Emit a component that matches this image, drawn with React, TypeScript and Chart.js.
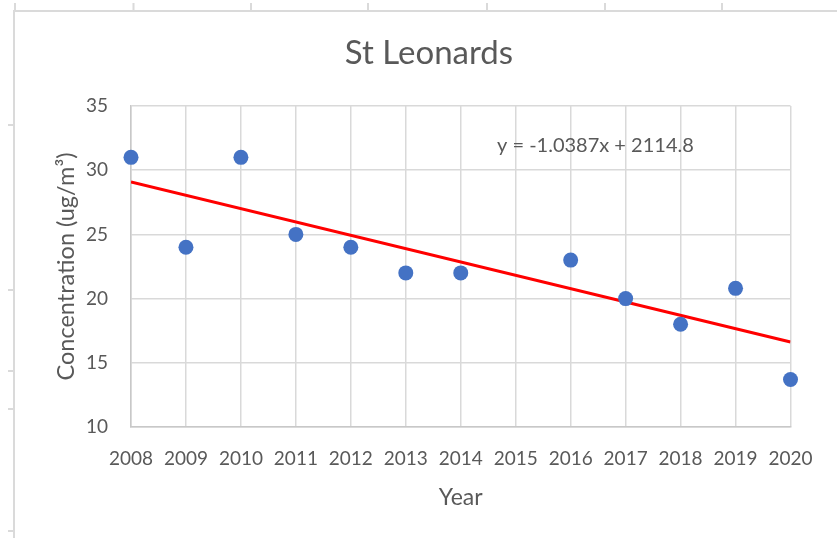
import React, { useEffect, useRef } from "react";
import { Chart, registerables } from "chart.js";

Chart.register(...registerables);

const chartTitle = "St Leonards";
const xAxisTitle = "Year";
const yAxisTitle = "Concentration (ug/m³)";
const years = [2008, 2009, 2010, 2011, 2012, 2013, 2014, 2016, 2017, 2018, 2019, 2020];
const concentrations = [31, 24, 31, 25, 24, 22, 22, 23, 20, 18, 20.8, 13.7];
const trendSlope = -1.0387;
const trendIntercept = 2114.8;
const trendEquation = "y = -1.0387x + 2114.8";
const xMin = 2008;
const xMax = 2020;
const yMin = 10;
const yMax = 35;
const yStep = 5;

const FONT = "Lato, 'Open Sans', sans-serif";
const TEXT = "#595959";
const GRID = "#D9D9D9";

const sheetTopTicks = [15, 133.5, 251, 368, 487, 605, 722];
const sheetLeftTicks = [125, 290, 371, 409, 531];

const decorPlugin = {
  id: "decor",
  beforeDraw(chart: any) {
    const ctx = chart.ctx;
    ctx.save();
    ctx.fillStyle = "#fff";
    ctx.fillRect(0, 0, chart.width, chart.height);
    ctx.fillStyle = "#DADADA";
    ctx.fillRect(13, 10, 2, chart.height - 10);
    ctx.fillRect(13, 10, chart.width - 13, 2);
    sheetTopTicks.forEach((x) => ctx.fillRect(x - 1, 3, 2, 8));
    sheetLeftTicks.forEach((y) => ctx.fillRect(8, y - 1, 5, 2));
    ctx.restore();
  },
  afterDraw(chart: any) {
    const ctx = chart.ctx;
    const xs = chart.scales.x;
    const ys = chart.scales.y;
    ctx.save();
    ctx.fillStyle = TEXT;
    ctx.textAlign = "center";
    ctx.textBaseline = "middle";
    ctx.font = `33px ${FONT}`;
    ctx.fillText(chartTitle, 429, 53);
    ctx.font = `20px ${FONT}`;
    ctx.fillText(trendEquation, xs.getPixelForValue(2016.45), ys.getPixelForValue(31.9));
    ctx.restore();
  },
};

export default function App() {
  const ref = useRef<HTMLCanvasElement | null>(null);
  useEffect(() => {
    if (!ref.current) return;
    const points = years.map((y, i) => ({ x: y, y: concentrations[i] }));
    const trend = [xMin, xMax].map((x) => ({ x, y: trendSlope * x + trendIntercept }));
    const chart = new Chart(ref.current, {
      type: "scatter",
      data: {
        datasets: [
          {
            data: points,
            backgroundColor: "#4472C4",
            borderWidth: 0,
            pointRadius: 7.5,
            pointHoverRadius: 7.5,
            clip: false,
          } as any,
          {
            type: "line",
            data: trend,
            borderColor: "#FF0000",
            borderWidth: 3,
            pointRadius: 0,
            fill: false,
          } as any,
        ],
      },
      options: {
        animation: false,
        responsive: false,
        devicePixelRatio: 1,
        layout: { padding: { left: 0, right: 46.5, top: 106, bottom: 27 } },
        plugins: { legend: { display: false }, tooltip: { enabled: false }, title: { display: false } },
        scales: {
          x: {
            type: "linear",
            min: xMin,
            max: xMax,
            afterFit: (s: any) => {
              s.height = 84;
            },
            ticks: {
              stepSize: 1,
              autoSkip: false,
              maxRotation: 0,
              padding: 20,
              color: TEXT,
              font: { family: FONT, size: 19 },
              callback: (v: any) => String(v),
            },
            grid: { color: GRID, lineWidth: 1.5, drawTicks: false },
            border: { color: "#C8C8C8", width: 1.5 },
            title: {
              display: true,
              text: xAxisTitle,
              color: TEXT,
              font: { family: FONT, size: 23 },
              padding: { top: 0, bottom: 0 },
            },
          },
          y: {
            type: "linear",
            min: yMin,
            max: yMax,
            afterFit: (s: any) => {
              s.width = 131;
            },
            ticks: {
              stepSize: yStep,
              padding: 23,
              color: TEXT,
              font: { family: FONT, size: 19 },
            },
            grid: { color: GRID, lineWidth: 1.5, drawTicks: false },
            border: { color: "#C8C8C8", width: 1.5 },
            title: {
              display: true,
              text: yAxisTitle,
              color: TEXT,
              font: { family: FONT, size: 23.5 },
              padding: { top: 52, bottom: 0 },
            },
          },
        },
      },
      plugins: [decorPlugin],
    });
    return () => chart.destroy();
  }, []);
  return (
    <div style={{ position: "fixed", left: 0, top: 0, width: 837, height: 538, background: "#fff" }}>
      <canvas ref={ref} width={837} height={538} style={{ display: "block", width: 837, height: 538 }} />
    </div>
  );
}
